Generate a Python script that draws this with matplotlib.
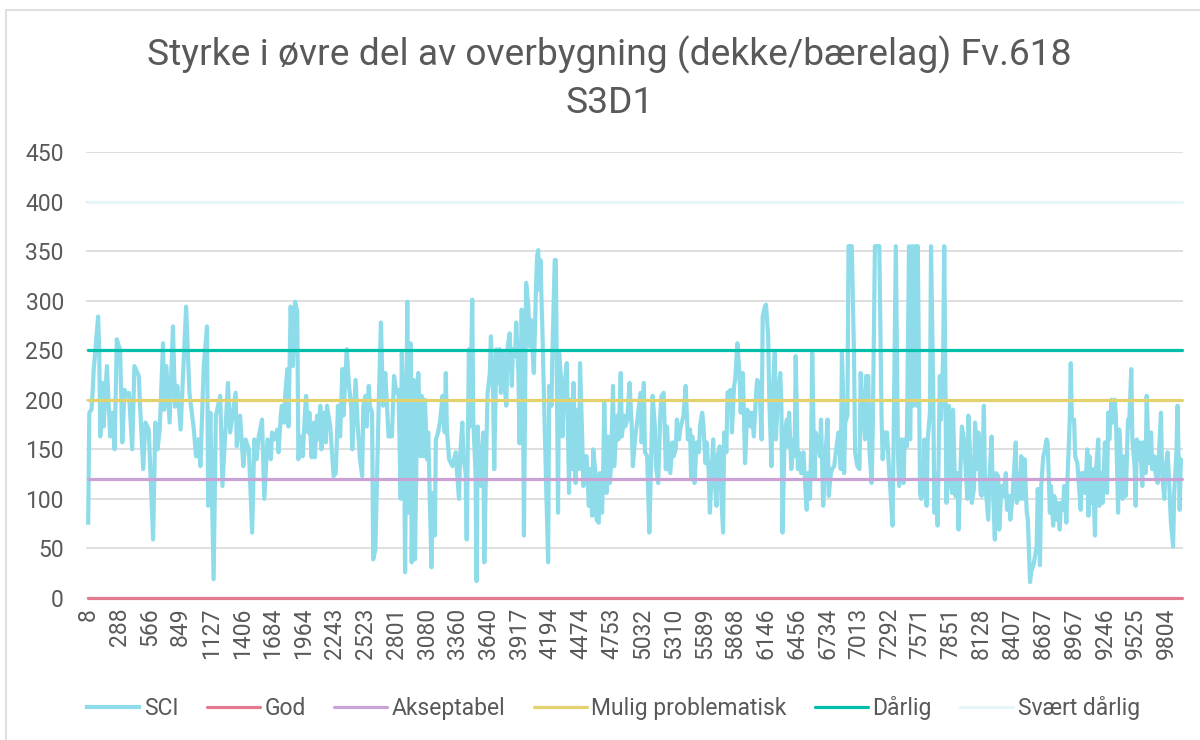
import numpy as np
import matplotlib.pyplot as plt
from matplotlib.patches import Rectangle

plt.rcParams['font.family'] = ['Roboto', 'DejaVu Sans']

# SCI: (category index, value)
sci_points = [
    (0, 76), (1, 187), (3, 190), (4, 207), (5, 230), (6, 243), (9, 284), (10, 250), (11, 163), (13, 217),
    (14, 173), (17, 234), (20, 163), (22, 187), (24, 150), (26, 261), (29, 250), (31, 157), (33, 210), (35, 204),
    (37, 207), (40, 150), (42, 234), (46, 224), (47, 197), (50, 130), (52, 177), (55, 170), (59, 59), (61, 177),
    (63, 150), (65, 170), (68, 257), (69, 190), (71, 234), (74, 177), (77, 274), (79, 193), (81, 214), (84, 170),
    (89, 294), (92, 207), (96, 170), (98, 143), (100, 160), (102, 133), (105, 234), (108, 274), (109, 93), (111, 187),
    (114, 19), (116, 184), (120, 204), (122, 113), (127, 217), (129, 167), (134, 207), (135, 153), (138, 184), (141, 133),
    (143, 160), (146, 150), (149, 66), (151, 160), (153, 140), (155, 163), (158, 180), (160, 100), (163, 160),
    (166, 140), (167, 167), (169, 160), (172, 170), (173, 147), (175, 184), (176, 194), (178, 177), (179, 204), (181, 231),
    (182, 173), (184, 294), (186, 234), (188, 299), (190, 289), (191, 140), (193, 163), (195, 143), (197, 187), (198, 204),
    (200, 167), (201, 187), (203, 142), (205, 177), (206, 142), (208, 184), (209, 160), (211, 194), (212, 150), (214, 187),
    (216, 157), (217, 194), (220, 173), (223, 123), (225, 126), (227, 194), (229, 163), (231, 231), (232, 184), (235, 251),
    (237, 214), (239, 194), (240, 150), (243, 220), (245, 173), (247, 140), (249, 123), (250, 194), (252, 204), (253, 173),
    (255, 214), (256, 194), (258, 187), (259, 39), (261, 49), (264, 194), (266, 278), (268, 194), (270, 227), (273, 163),
    (276, 163), (278, 224), (280, 207), (282, 210), (284, 100), (285, 247), (287, 173), (288, 26), (290, 299), (291, 86),
    (293, 257), (294, 36), (296, 220), (297, 39), (299, 194), (300, 227), (302, 143), (303, 204), (305, 143), (306, 200),
    (308, 140), (309, 167), (310, 123), (312, 31), (313, 106), (315, 63), (316, 160), (318, 167), (320, 180), (322, 204),
    (324, 167), (325, 227), (326, 170), (328, 140), (331, 133),
    (334, 147), (335, 130), (337, 100), (338, 143), (340, 177), (341, 143), (343, 126), (344, 59), (346, 251), (347, 173),
    (349, 301), (350, 180), (352, 126), (353, 17), (354, 173), (356, 116), (357, 113), (359, 167), (360, 36), (362, 160),
    (363, 207), (365, 227), (366, 264), (368, 207), (369, 130), (371, 251), (372, 217), (374, 251), (375, 207), (377, 247),
    (378, 220), (380, 194), (381, 251), (383, 267), (385, 214), (386, 251), (388, 244), (389, 278), (391, 227), (392, 156),
    (394, 291), (395, 220), (396, 63), (398, 318), (400, 294), (401, 254), (402, 281), (404, 247), (405, 227), (407, 314),
    (408, 345), (409, 351), (410, 311), (411, 341), (413, 261), (415, 167), (418, 36), (419, 214), (421, 194), (422, 251),
    (424, 341), (425, 341), (427, 86), (428, 247), (430, 217), (431, 163), (433, 217), (435, 237), (437, 106), (438, 200),
    (440, 130), (441, 217), (443, 116), (444, 190), (446, 130), (447, 237), (449, 160), (450, 113), (452, 143), (453, 143),
    (455, 93), (456, 130), (458, 83), (459, 150), (461, 126), (462, 79), (464, 76), (465, 126), (467, 86), (468, 126),
    (469, 197), (471, 106), (472, 163), (474, 116), (475, 130), (477, 214), (478, 133), (481, 184), (482, 160), (484, 227),
    (485, 163), (487, 184), (488, 173), (490, 180), (492, 217), (494, 173), (495, 133), (497, 160),
    (502, 207), (503, 157), (505, 217), (506, 147), (508, 143), (510, 66), (512, 160), (513, 204), (515, 173), (516, 133),
    (518, 116), (520, 187), (521, 204), (523, 207), (525, 130), (526, 173), (528, 130), (529, 126), (531, 157), (532, 143),
    (534, 150), (535, 180), (537, 160), (538, 170), (541, 184), (543, 214), (545, 160), (547, 170), (548, 120), (549, 163),
    (551, 116), (553, 157), (555, 147), (556, 173), (558, 187), (559, 177), (561, 136), (562, 157), (564, 126), (565, 86),
    (568, 160), (569, 126), (571, 93), (572, 143), (574, 153), (575, 113), (577, 66), (578, 167), (580, 147), (581, 207),
    (584, 210), (585, 167), (587, 214), (588, 220), (590, 257), (592, 224), (593, 187), (595, 227), (597, 136), (599, 190),
    (600, 187), (602, 173), (603, 187), (605, 163), (607, 207), (608, 220), (610, 217), (612, 160), (613, 284), (615, 294),
    (616, 296), (618, 264), (619, 200), (621, 133), (622, 204), (624, 247), (625, 160), (627, 207), (629, 227), (630, 194),
    (631, 66), (633, 167), (635, 180), (636, 153), (637, 187), (639, 130), (641, 160), (642, 143), (643, 244), (645, 130),
    (646, 147), (648, 126), (650, 147), (651, 126), (653, 89), (654, 126), (656, 100), (657, 150), (658, 247), (660, 120),
    (661, 167), (663, 160), (665, 143), (666, 180), (668, 93),
    (670, 143), (672, 180), (673, 103), (675, 126), (676, 130), (678, 133), (679, 143), (681, 160), (682, 167), (684, 130),
    (685, 247), (686, 210), (687, 126), (688, 177), (690, 184), (691, 355), (694, 355), (696, 244), (697, 147), (699, 133),
    (701, 130), (702, 227), (704, 187), (706, 160), (707, 224), (709, 224), (710, 150), (712, 116), (713, 167), (715, 355),
    (717, 355), (719, 355), (721, 184), (722, 140), (724, 167), (726, 167), (728, 126), (729, 110), (731, 73), (732, 160),
    (734, 355), (736, 143), (737, 113), (739, 160), (741, 116), (742, 160), (744, 153), (746, 355), (747, 160), (749, 355),
    (750, 194), (752, 355), (753, 194), (754, 355), (756, 106), (757, 100), (759, 106), (760, 160), (762, 93), (763, 160),
    (765, 187), (766, 355), (768, 207), (769, 86), (771, 126), (772, 73), (774, 224), (775, 180), (777, 244), (778, 355),
    (780, 96), (782, 194), (783, 126), (785, 106), (786, 190), (788, 103), (790, 126), (791, 69), (793, 140), (794, 173),
    (796, 160), (797, 140), (799, 100), (800, 184), (802, 130), (803, 96), (805, 110), (806, 177), (808, 130), (809, 167),
    (811, 106), (812, 103), (814, 194), (815, 120), (818, 79), (819, 120), (821, 163), (822, 116), (824, 59), (825, 126),
    (827, 123), (828, 69), (830, 113),
    (832, 103), (834, 126), (835, 89), (837, 103), (838, 79), (840, 100), (841, 120), (843, 157), (844, 96), (846, 126),
    (847, 100), (848, 143), (850, 100), (851, 140), (853, 86), (854, 79), (856, 16), (857, 26), (859, 33), (860, 39),
    (862, 52), (863, 110), (865, 33), (866, 110), (868, 143), (869, 147), (871, 160), (872, 157), (874, 86), (875, 113),
    (877, 73), (878, 103), (880, 79), (881, 96), (883, 69), (884, 96), (886, 89), (887, 113), (889, 76), (890, 120),
    (892, 177), (893, 237), (894, 180), (896, 180), (897, 143), (899, 136), (900, 120), (902, 89), (903, 126), (905, 126),
    (906, 106), (908, 150), (909, 83), (910, 143), (912, 96), (913, 130), (915, 63), (916, 130), (918, 160), (919, 93),
    (921, 126), (922, 96), (924, 157), (926, 106), (927, 187), (928, 160), (930, 200), (931, 177), (933, 200), (934, 184),
    (936, 86), (937, 170), (939, 133), (940, 100), (942, 143), (943, 103), (945, 180), (946, 173), (948, 231), (949, 160),
    (951, 133), (952, 93), (953, 160), (955, 140), (956, 157), (958, 113), (959, 157), (961, 126), (962, 204), (964, 136),
    (966, 167), (967, 130), (969, 143), (970, 126), (972, 116), (973, 143), (975, 187), (976, 126), (978, 100), (979, 130),
    (981, 147), (982, 126), (984, 76), (986, 52), (987, 106), (989, 147), (990, 194), (992, 89), (993, 140), (994, 136),
]

# chainage labels (every 28th category)
tick_labels = ['8', '288', '566', '849', '1127', '1406', '1684', '1964', '2243', '2523', '2801', '3080',
               '3360', '3640', '3917', '4194', '4474', '4753', '5032', '5310', '5589', '5868', '6146', '6456',
               '6734', '7013', '7292', '7571', '7851', '8128', '8407', '8687', '8967', '9246', '9525', '9804']
tick_step = 28

# class limits
limit_names = ['God', 'Akseptabel', 'Mulig problematisk', 'Dårlig', 'Svært dårlig']
limit_values = [0, 120, 200, 250, 400]
limit_colors = ['#E27A90', '#C9A3D6', '#E2D26E', '#00BFAA', '#E6F6FA']
sci_color = '#8EDCEA'
text_color = '#595959'

pos = np.array([p for p, v in sci_points])
sci = np.array([v for p, v in sci_points])
n_last = pos.max()

fig = plt.figure(figsize=(12, 7.4), dpi=100)
fig.patches.append(Rectangle((6 / 1200, -0.1), 1.2, (740 - 10) / 740 + 0.1, transform=fig.transFigure,
                             fill=False, edgecolor='#D9D9D9', linewidth=1.2))
ax = fig.add_axes([86 / 1200, (740 - 598) / 740, 1097 / 1200, 446 / 740])

ax.plot(pos, sci, color=sci_color, linewidth=3.0, solid_joinstyle='round', label='SCI', zorder=3)
for name, val, col in zip(limit_names, limit_values, limit_colors):
    ax.plot([0, n_last], [val, val], color=col, linewidth=2.3, solid_capstyle='round',
            label=name, clip_on=False, zorder=4 if val < 400 else 2)

ax.set_xlim(-2, 995)
ax.set_ylim(0, 450)
ax.set_yticks(np.arange(0, 451, 50))
ax.yaxis.grid(True, color='#D9D9D9', linewidth=1.2)
ax.set_axisbelow(True)
for s in ax.spines.values():
    s.set_visible(False)
ax.tick_params(axis='both', length=0, labelsize=16.5, labelcolor=text_color)
ax.tick_params(axis='y', pad=16)
ax.set_xticks(np.arange(len(tick_labels)) * tick_step)
ax.set_xticklabels(tick_labels, rotation=90)
ax.tick_params(axis='x', pad=7)

fig.text(0.508, 1 - 65 / 740, 'Styrke i øvre del av overbygning (dekke/bærelag) Fv.618',
         ha='center', va='baseline', fontsize=26.8, color=text_color)
fig.text(0.508, 1 - 113 / 740, 'S3D1', ha='center', va='baseline', fontsize=26.8, color=text_color)

leg = fig.legend(loc='center', bbox_to_anchor=(0.511, 0.043), ncol=6, frameon=False,
                 fontsize=16.5, handlelength=2.3, handletextpad=0.2, columnspacing=1.25)
for t in leg.get_texts():
    t.set_color(text_color)

fig.savefig('out.png', dpi=100)
